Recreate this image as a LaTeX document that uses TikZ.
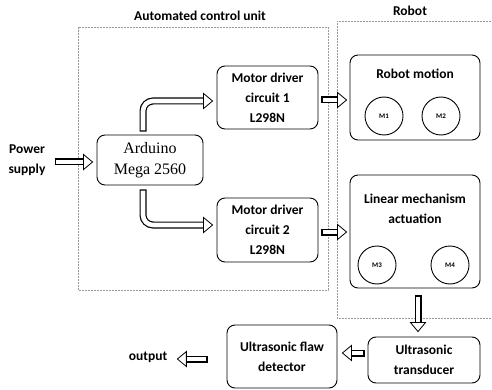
\documentclass[tikz,border=0pt]{standalone}
\usepackage{fontspec}
\setmainfont{Carlito}
\newfontfamily\ardfont{Liberation Serif}
\usetikzlibrary{calc,positioning}

\tikzset{
  blk/.style={draw, line width=0.9pt, rounded corners=8pt, align=center, inner sep=2pt,
    font=\bfseries\fontsize{13.5}{20}\selectfont},
  lbl/.style={align=center, inner sep=0pt, font=\bfseries\fontsize{13.5}{20}\selectfont},
  motor/.style={draw, circle, line width=0.9pt, minimum size=38pt, inner sep=0pt,
    font=\bfseries\fontsize{7}{8}\selectfont},
  unitbox/.style={draw=gray!80, dash pattern=on 1.6pt off 1.4pt, line width=0.6pt},
  shaftout/.style={line width=7pt, rounded corners=10pt, shorten >=8pt},
  shaftin/.style={white, line width=4.6pt, rounded corners=10pt, shorten >=7pt, shorten <=1.2pt},
}
% hollow arrow: path, tip point, direction
\newcommand{\harrow}[3]{%
  \draw[shaftout] #1;
  \draw[shaftin] #1;
  \draw[line width=0.8pt, fill=white, shift={(#2)}, rotate=#3]
    (0,0) -- (-9,-7.5) -- (-9,7.5) -- cycle;}

\begin{document}
\begin{tikzpicture}[x=1pt,y=-1pt]
\useasboundingbox (0,0) rectangle (492,390);

% dashed frames
\draw[unitbox] (78,27) rectangle (328,290);
\node[lbl] (acu) at (200,16) {Automated control unit};
\draw[unitbox] (500,21) -| (337,318) -- (500,318);
\node[lbl] (rob) at (410,11) {Robot};

% blocks
\node[lbl] (pwr) at (27,160) {Power\\supply};
\node[blk, minimum width=106pt, minimum height=50pt,
  font=\ardfont\fontsize{16}{21}\selectfont] (ard) at (150,160) {Arduino\\Mega 2560};
\node[blk, minimum width=101pt, minimum height=63pt] (md1) at (267.5,97.5)
  {Motor driver\\circuit 1\\L298N};
\node[blk, minimum width=101pt, minimum height=64pt] (md2) at (267.5,230)
  {Motor driver\\circuit 2\\L298N};

\node[blk, minimum width=130pt, minimum height=85pt] (mot) at (415,97.5) {};
\node[lbl, below=14pt of mot.north] (motT) {Robot motion};
\node[motor] (m1) at (384,116) {M1};
\node[motor] (m2) at (441,116) {M2};

\node[blk, minimum width=130pt, minimum height=113pt] (lin) at (415,231.5) {};
\node[lbl, below=19pt of lin.north] (linT) {Linear mechanism\\actuation};
\node[motor] (m3) at (377,265) {M3};
\node[motor] (m4) at (450,265) {M4};

\node[blk, minimum width=112pt, minimum height=46pt] (trn) at (424,360)
  {Ultrasonic\\transducer};
\node[blk, minimum width=110pt, minimum height=63pt] (ufd) at (282,356.5)
  {Ultrasonic flaw\\detector};
\node[lbl] (out) at (148,357) {output};

% hollow arrows
\coordinate (s0) at ($(ard.west)+(-42,2)$);
\coordinate (t0) at ($(ard.west)+(-4,2)$);
\harrow{(s0) -- (t0)}{t0}{0}

\coordinate (s1) at ($(ard.north)+(-7,-3)$);
\coordinate (t1) at ($(md1.west)+(-4,3.5)$);
\harrow{(s1) |- (t1)}{t1}{0}
\coordinate (s2) at ($(ard.south)+(-7,4)$);
\coordinate (t2) at ($(md2.west)+(-4,-5)$);
\harrow{(s2) |- (t2)}{t2}{0}

\coordinate (s3) at ($(md1.east)+(3,2.5)$);
\coordinate (t3) at ($(mot.west)+(-3,2.5)$);
\harrow{(s3) -- (t3)}{t3}{0}
\coordinate (s4) at ($(md2.east)+(3,2)$);
\coordinate (t4) at ($(lin.west)+(-3,0.5)$);
\harrow{(s4) -- (t4)}{t4}{0}

\coordinate (s5) at ($(lin.south)+(3,7)$);
\coordinate (t5) at ($(trn.north)+(-6,-5)$);
\harrow{(s5) -- (t5)}{t5}{-90}

\coordinate (s6) at ($(trn.west)+(-3,-7)$);
\coordinate (t6) at ($(ufd.east)+(5,-3.5)$);
\harrow{(s6) -- (t6)}{t6}{180}
\coordinate (s7) at ($(ufd.west)+(-19,2.5)$);
\coordinate (t7) at ($(out.east)+(10,2)$);
\harrow{(s7) -- (t7)}{t7}{180}

\end{tikzpicture}
\end{document}
